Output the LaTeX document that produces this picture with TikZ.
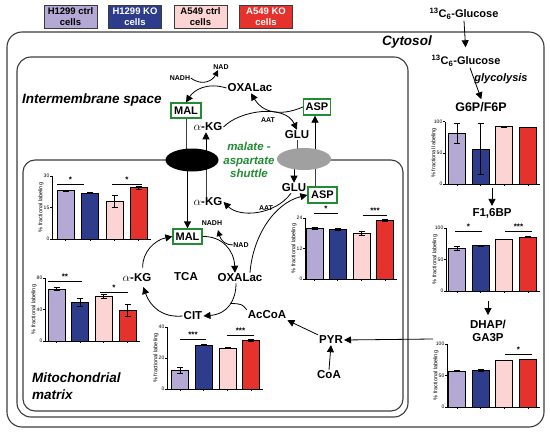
\documentclass[tikz,border=0pt]{standalone}
\usepackage{fontspec}
\setmainfont{Liberation Sans}
\usetikzlibrary{arrows.meta,shapes.geometric,calc}
\pgfdeclarelayer{background}
\pgfsetlayers{background,main}
\definecolor{cLav}{RGB}{180,168,212}
\definecolor{cBlue}{RGB}{46,60,140}
\definecolor{cPink}{RGB}{253,212,212}
\definecolor{cRed}{RGB}{230,50,45}
\definecolor{cGreen}{RGB}{34,139,52}
\definecolor{cGray}{RGB}{160,160,160}
\definecolor{cLine}{RGB}{60,60,60}

\newcommand\mybar[6]{%
  \filldraw[fill=#6,draw=black,line width=0.5pt] ({#1-8.5},#2) rectangle ({#1+8.5},{#2-#3*#4});
  \draw[line width=0.5pt] (#1,{#2-#3*(#4-#5)}) -- (#1,{#2-#3*(#4+#5)})
     ({#1-3},{#2-#3*(#4+#5)}) -- ({#1+3},{#2-#3*(#4+#5)})
     ({#1-3},{#2-#3*(#4-#5)}) -- ({#1+3},{#2-#3*(#4-#5)})
     (#1,#2) -- (#1,{#2+2});
}
\newcommand\myaxes[6]{%
  \draw[line width=0.5pt] (#1,{#2-#3*#5}) -- (#1,#2) -- (#6,#2);
  \foreach \t in {0,#4,#5} {
    \draw[line width=0.5pt] (#1,{#2-#3*\t}) -- ({#1-2},{#2-#3*\t});
    \node[ticklbl,anchor=east] at ({#1-2},{#2-#3*\t}) {\t};
  }
  \node[ylbl,rotate=90] at ({#1-11},{#2-#3*#5/2}) {\% fractional labeling};
}
\newcommand\mysig[4]{%
  \draw[line width=0.5pt] (#1,#3) -- (#2,#3);
  \node[sigstar,anchor=south] at ({(#1+#2)/2},{#3-1.5}) {#4};
}

\tikzset{
 lbl/.style={font=\fontsize{11.5}{13}\selectfont\bfseries, inner sep=1pt},
 tinylbl/.style={font=\fontsize{7}{8}\selectfont\bfseries, inner sep=0.5pt},
 region/.style={font=\fontsize{13.5}{17}\selectfont\bfseries\itshape, inner sep=0pt},
 gbox/.style={draw=cGreen, line width=1.3pt, fill=white, inner sep=0pt, font=\fontsize{11}{12}\selectfont\bfseries, minimum height=15pt},
 legbox/.style={draw=cLine, line width=0.6pt, minimum width=53pt, minimum height=23pt, align=center, inner sep=0pt, font=\fontsize{9.5}{11}\selectfont\bfseries},
 arr/.style={-{Triangle[length=7pt,width=7pt]}, line width=0.8pt},
 conn/.style={line width=0.8pt, draw=cLine},
 memb/.style={draw=cLine, line width=1.1pt, rounded corners=14pt},
 ticklbl/.style={font=\fontsize{5}{6}\selectfont, inner sep=0.5pt},
 ylbl/.style={font=\fontsize{5.5}{6}\selectfont, inner sep=0pt},
 sigstar/.style={font=\fontsize{8}{8}\selectfont\bfseries, inner sep=0pt},
 shut/.style={font=\fontsize{11.5}{13.5}\selectfont\bfseries\itshape, text=cGreen, align=center, inner sep=0pt}
}

\begin{document}
\begin{tikzpicture}[x=1pt,y=-1pt]
\useasboundingbox (0,0) rectangle (550,434);

% compartments
\draw[memb,rounded corners=15pt] (7,32) rectangle (544,427);
\draw[memb] (17,57) rectangle (408,417);
\draw[memb,rounded corners=12pt] (304,160) -- (403,160) -- (403,411) -- (23,411) -- (23,160) -- (192,160);

% legend
\node[legbox,fill=cLav] (lg1) at (70.5,16.5) {H1299 ctrl\\cells};
\node[legbox,fill=cBlue,text=white] (lg2) at (135,16.5) {H1299 KO\\cells};
\node[legbox,fill=cPink] (lg3) at (200.5,16.5) {A549 ctrl\\cells};
\node[legbox,fill=cRed,text=white] (lg4) at (266,16.5) {A549 KO\\cells};

% cytosol / glycolysis
\node[lbl,font=\fontsize{11}{12}\selectfont\bfseries] (glc1) at (464,14) {\textsuperscript{13}C\textsubscript{6}-Glucose};
\node[region] (cyt) at (407,42) {Cytosol};
\node[lbl,font=\fontsize{11}{12}\selectfont\bfseries] (glc2) at (466,61) {\textsuperscript{13}C\textsubscript{6}-Glucose};
\node[lbl,font=\fontsize{11}{12}\selectfont\bfseries\itshape] (glyc) at (501,79) {glycolysis};
\node[lbl,font=\fontsize{12.5}{13}\selectfont\bfseries] (g6p) at (481,107) {G6P/F6P};
\node[lbl,font=\fontsize{11.5}{13}\selectfont\bfseries] (f16) at (492,213) {F1,6BP};
\node[lbl,font=\fontsize{11.5}{13}\selectfont\bfseries,align=center] (dhap) at (488,331) {DHAP/\\GA3P};
\coordinate (c1b) at (492,188);
\coordinate (c2b) at (488,301);
\coordinate (gaIn) at (433,339);

\draw[arr,shorten >=7pt] (glc1.south) -- (glc2.north);
\draw[arr,shorten >=2pt] ([xshift=4pt]glc2.south) -- ([xshift=1pt]g6p.north);
\draw[arr,shorten >=1pt] (c1b) -- (f16.north);
\draw[arr,shorten >=4pt] (c2b) -- (dhap.north);

% intermembrane space
\node[region,anchor=west] (ims) at (22,100) {Intermembrane space};
\node[tinylbl] (nadh1) at (180,78) {NADH};
\node[tinylbl] (nad1) at (221,67) {NAD};
\node[lbl] (oxa1) at (250,88) {OXALac};
\node[gbox,minimum width=30pt] (mal1) at (186,110.5) {MAL};
\node[lbl] (akg1) at (208,127) {$\alpha$-KG};
\node[gbox,minimum width=27pt,minimum height=16pt] (asp1) at (317,107) {ASP};
\node[lbl] (glu1) at (297,135) {GLU};
\node[tinylbl] (aat1) at (268,120) {AAT};
\node[shut] (shuttle) at (249,160) {malate -\\aspartate\\shuttle};
\node[ellipse,fill=black,minimum width=53pt,minimum height=23pt,inner sep=0pt] (blk) at (192,160) {};
\node[ellipse,fill=cGray,minimum width=54pt,minimum height=22pt,inner sep=0pt] (gry) at (304,159) {};

% matrix
\node[lbl] (glu2) at (294,188) {GLU};
\node[gbox,minimum width=29pt,minimum height=16pt] (asp2) at (322.5,195) {ASP};
\node[lbl] (akg2) at (208,202) {$\alpha$-KG};
\node[tinylbl] (aat2) at (266,208) {AAT};
\node[gbox,minimum width=29pt] (mal2) at (187.5,236.5) {MAL};
\node[tinylbl] (nadh2) at (212,223) {NADH};
\node[tinylbl] (nad2) at (241,245) {NAD};
\node[lbl] (tca) at (186,277) {TCA};
\node[lbl] (oxa2) at (240,278) {OXALac};
\node[lbl] (akg3) at (137,278) {$\alpha$-KG};
\node[lbl] (cit) at (193,316) {CIT};
\node[lbl] (accoa) at (267,315) {AcCoA};
\node[lbl] (pyr) at (331,340) {PYR};
\node[lbl] (coa) at (329,375) {CoA};
\node[region,anchor=west,align=left] (mito) at (32,386) {Mitochondrial\\matrix};

% connectors hidden under the carriers
\begin{pgfonlayer}{background}
\draw[conn] (mal1.south) -- (mal1.south |- blk.center);
\draw[arr] ([xshift=-2pt]akg1.south |- blk.center) -- ([xshift=-2pt]akg1.south);
\draw[conn] (glu1.south) -- (glu1.south |- gry.center);
\draw[arr] ([xshift=-2pt]asp1.south |- gry.center) -- ([xshift=-2pt]asp1.south);
\draw[arr] (mal2.north |- blk.center) -- (mal2.north);
\draw[conn] ([xshift=-2pt]akg2.north) -- ([xshift=-2pt]akg2.north |- blk.center);
\draw[arr] (glu2.north |- gry.center) -- (glu2.north);
\draw[conn] ([xshift=-7pt]asp2.north) -- ([xshift=-7pt]asp2.north |- gry.center);
\end{pgfonlayer}

% intermembrane reactions
\draw[arr] (oxa1.west) .. controls (207,82) and (194,90) .. (mal1.north);
\draw[arr,-{Triangle[length=6pt,width=6pt]}] (nadh1.east) .. controls (203,87) and (213,80) .. ([xshift=-3pt]nad1.south);
\draw[arr] (akg1.east) .. controls (240,110) and (285,104) .. (glu1.north);
\draw[arr] (asp1.west) .. controls (280,117) and (262,112) .. ([xshift=1pt]oxa1.south);

% matrix reactions
\draw[arr] ([xshift=-3pt]glu2.south) .. controls (275,215) and (240,218) .. (akg2.east);
\draw[arr] ([xshift=10pt]oxa2.north) .. controls (253,235) and (275,203) .. (asp2.west);
\draw[arr] (mal2.east) .. controls (222,236) and (234,250) .. ([xshift=-5pt]oxa2.north);
\draw[arr,-{Triangle[length=6pt,width=6pt]}] (nad2.west) .. controls (226,245) and (221,241) .. ([xshift=6pt,yshift=-4pt]nadh2.south);
\draw[arr,shorten <=5pt] ([xshift=6pt]akg3.north) .. controls (142,252) and (155,240) .. (mal2.west);
\draw[arr] ([xshift=-4pt]oxa2.south) .. controls (236,300) and (228,314) .. coordinate[pos=0.45] (join) (cit.east);
\draw[conn,draw=black] (accoa.north west) .. controls (242,304) .. (join);
\draw[arr,shorten >=4pt] (cit.west) .. controls (162,318) and (150,306) .. ([xshift=5pt]akg3.south);
\draw[arr] (pyr.north west) -- (accoa.south east);
\draw[arr] (coa.north) -- (pyr.south);
\draw[arr] (gaIn) -- (pyr.east);

% chart A (MAL)
\myaxes{52}{239}{2.1}{15}{30}{151}
\mybar{65.5}{239}{2.1}{23}{0.3}{cLav}
\mybar{90}{239}{2.1}{22}{0.4}{cBlue}
\mybar{114.5}{239}{2.1}{18}{3}{cPink}
\mybar{138.5}{239}{2.1}{24.5}{0.7}{cRed}
\mysig{57}{84}{184}{*}
\mysig{112}{142}{184}{*}

% chart B (alpha-KG)
\myaxes{45}{341}{0.7875}{40}{80}{140}
\mybar{56.5}{341}{0.7875}{66}{2}{cLav}
\mybar{80}{341}{0.7875}{49.5}{5}{cBlue}
\mybar{103.5}{341}{0.7875}{57}{3}{cPink}
\mybar{127.5}{341}{0.7875}{39}{8}{cRed}
\mysig{48}{82}{281}{**}
\mysig{100}{128}{292}{*}

% chart C (CIT)
\myaxes{167}{389}{1.55}{20}{40}{263}
\mybar{180}{389}{1.55}{12}{2}{cLav}
\mybar{203.5}{389}{1.55}{28.5}{0.5}{cBlue}
\mybar{227.5}{389}{1.55}{26.5}{0.4}{cPink}
\mybar{251}{389}{1.55}{31.5}{0.4}{cRed}
\mysig{180}{206}{339}{***}
\mysig{227}{254}{335}{***}

% chart D (ASP)
\myaxes{305}{279}{2.54}{12}{24}{397}
\mybar{314.5}{279}{2.54}{20}{0.3}{cLav}
\mybar{337.5}{279}{2.54}{19.5}{0.3}{cBlue}
\mybar{361.5}{279}{2.54}{18}{0.8}{cPink}
\mybar{385}{279}{2.54}{23.2}{0.5}{cRed}
\mysig{314}{338}{213}{*}
\mysig{363}{387}{215}{***}

% chart 1 (G6P/F6P)
\myaxes{445}{184}{0.623}{50}{100}{540}
\mybar{457}{184}{0.623}{82}{16}{cLav}
\mybar{480.5}{184}{0.623}{56}{41}{cBlue}
\mybar{504}{184}{0.623}{92}{0.5}{cPink}
\mybar{528}{184}{0.623}{91}{0.5}{cRed}

% chart 2 (F1,6BP)
\myaxes{446}{291}{0.63}{50}{100}{540}
\mybar{457}{291}{0.63}{68}{3}{cLav}
\mybar{480.5}{291}{0.63}{72}{1}{cBlue}
\mybar{504}{291}{0.63}{82}{0.5}{cPink}
\mybar{528}{291}{0.63}{86}{0.5}{cRed}
\mysig{455}{482}{231}{*}
\mysig{505}{532}{231}{***}

% chart 3 (DHAP/GA3P)
\myaxes{447}{407}{0.63}{50}{100}{540}
\mybar{457}{407}{0.63}{57.5}{1}{cLav}
\mybar{480.5}{407}{0.63}{58.5}{2}{cBlue}
\mybar{504}{407}{0.63}{74.5}{0.5}{cPink}
\mybar{528}{407}{0.63}{76}{0.5}{cRed}
\mysig{505}{532}{354}{*}
\end{tikzpicture}
\end{document}
